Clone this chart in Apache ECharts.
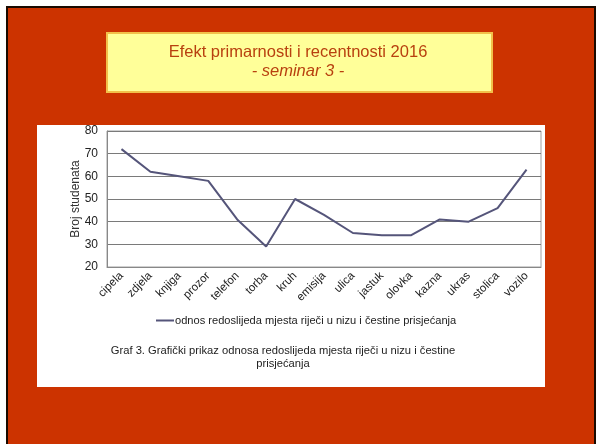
<!DOCTYPE html>
<html>
<head>
<meta charset="utf-8">
<script src="https://cdn.jsdelivr.net/npm/echarts@6/dist/echarts.min.js"></script>
<style>
  html, body { margin: 0; padding: 0; background: #fff; }
  #chart { width: 596px; height: 444px; }
</style>
</head>
<body>
<div id="chart"></div>
<script>
  // categories & values
  var rijeci = ['cipela', 'zdjela', 'knjiga', 'prozor', 'telefon', 'torba', 'kruh', 'emisija',
                'ulica', 'jastuk', 'olovka', 'kazna', 'ukras', 'stolica', 'vozilo'];
  var brojStudenata = [72, 62, 60, 58, 41, 29, 50, 43, 35, 34, 34, 41, 40, 46, 63];
  var yTicks = [20, 30, 40, 50, 60, 70, 80];

  var font = '"Liberation Sans", Arial, sans-serif';
  var chartDom = document.getElementById('chart');
  var myChart = echarts.init(chartDom);
  var option = {
    backgroundColor: '#ffffff',
    animation: false,
    graphic: [
      { type: 'rect', z: -10, shape: { x: 7, y: 7, width: 588, height: 440 },
        style: { fill: '#cc3300', stroke: '#1a0a00', lineWidth: 2 } },
      { type: 'rect', z: -9, shape: { x: 107, y: 33, width: 385, height: 59 },
        style: { fill: '#ffff99', stroke: '#f2c04a', lineWidth: 2 } },
      { type: 'text', z: -8, left: 'center', top: 44,
        style: { text: 'Efekt primarnosti i recentnosti 2016', font: '16.5px ' + font, fill: '#b8400f' } },
      { type: 'text', z: -8, left: 'center', top: 63,
        style: { text: '- seminar 3 -', font: 'italic 16.5px ' + font, fill: '#b8400f' } },
      { type: 'rect', z: -9, shape: { x: 37, y: 125, width: 508, height: 262 },
        style: { fill: '#ffffff' } },
      { type: 'text', z: 5, x: 283, y: 344,
        style: { text: 'Graf 3. Grafički prikaz odnosa redoslijeda mjesta riječi u nizu i čestine\nprisjećanja',
                 font: '11.2px ' + font, fill: '#222', align: 'center', lineHeight: 13 } }
    ],
    legend: {
      data: ['odnos redoslijeda mjesta riječi u nizu i čestine prisjećanja'],
      left: 151, top: 310,
      icon: 'rect', itemWidth: 18, itemHeight: 2, itemGap: 2,
      textStyle: { fontFamily: font, fontSize: 11.1, color: '#222', padding: [0, 0, 0, -4] }
    },
    grid: {
      left: 107, top: 131, right: 55, bottom: 177,
      show: true, borderColor: '#a0a0a0', borderWidth: 1, backgroundColor: 'transparent'
    },
    xAxis: {
      type: 'category',
      data: rijeci,
      boundaryGap: true,
      axisLine: { lineStyle: { color: '#888' } },
      axisTick: { show: false },
      axisLabel: { rotate: 45, margin: 7, fontFamily: font, fontSize: 11.5, color: '#222', interval: 0 }
    },
    yAxis: {
      type: 'value',
      min: yTicks[0], max: yTicks[yTicks.length - 1], interval: 10,
      name: 'Broj studenata',
      nameLocation: 'middle',
      nameGap: 25,
      nameMoveOverlap: false,
      nameTextStyle: { fontFamily: font, fontSize: 12, color: '#333' },
      axisLine: { show: true, lineStyle: { color: '#888' } },
      axisTick: { show: false },
      axisLabel: { fontFamily: font, fontSize: 12, color: '#222', margin: 9 },
      splitLine: { lineStyle: { color: '#7a7a7a', width: 1 } }
    },
    series: [
      {
        name: 'odnos redoslijeda mjesta riječi u nizu i čestine prisjećanja',
        type: 'line',
        data: brojStudenata,
        symbol: 'none',
        lineStyle: { color: '#55557a', width: 2 },
        itemStyle: { color: '#55557a' }
      }
    ]
  };
  option && myChart.setOption(option);
</script>
</body>
</html>
